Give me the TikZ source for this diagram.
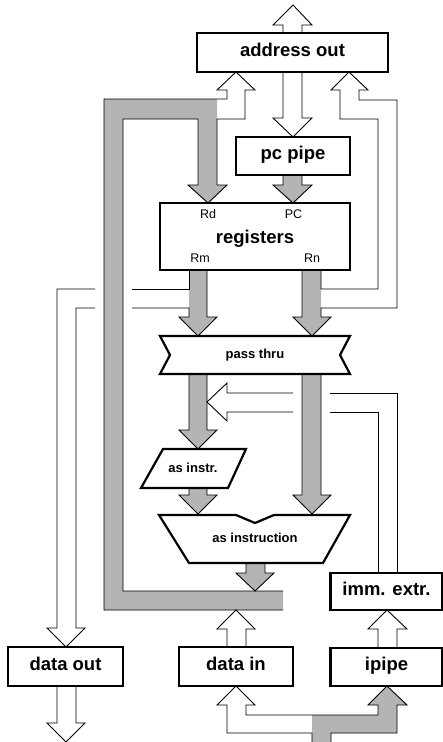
\documentclass[tikz,border=0pt]{standalone}
\usepackage{fontspec}
\setmainfont{Liberation Sans}
\definecolor{arrgray}{RGB}{180,180,180}
\newcommand{\bigfnt}{\fontsize{18.5pt}{20pt}\selectfont\bfseries}
\newcommand{\midfnt}{\fontsize{13pt}{15pt}\selectfont\bfseries}
\newcommand{\smlfnt}{\fontsize{12.5pt}{14pt}\selectfont}
\tikzset{
  boxsty/.style={draw, line width=2.2pt, fill=white, rectangle, inner sep=0pt,
    font=\bigfnt, text height=0.72em, text depth=0pt},
  shapesty/.style={draw, line width=2.2pt, fill=white, line join=miter},
  edge/.style={line width=0.9pt, line join=miter},
  grayarrow/.style={edge, fill=arrgray},
  lbl/.style={inner sep=0pt, anchor=base, font=\smlfnt},
  midlbl/.style={inner sep=0pt, font=\midfnt, text height=0.72em, text depth=0pt},
}
\begin{document}
\begin{tikzpicture}[x=1pt, y=-1pt]
\useasboundingbox (0,0) rectangle (443,742);
\clip (0,0) rectangle (443,742);

% big gray loop (result -> Rd) with hollow branch to address out
\fill[arrgray] (217,99) -- (217,185) -- (227,185) -- (208,203) -- (188,185) -- (198,185)
  -- (198,119) -- (123,119) -- (123,591) -- (283,591) -- (283,610) -- (104,610) -- (104,99) -- cycle;
\draw[edge] (283,610) -- (104,610) -- (104,99) -- (227,99) -- (227,90) -- (217,90)
  -- (236,72) -- (255,90) -- (245,90) -- (245,119) -- (217,119) -- (217,185) -- (227,185)
  -- (208,203) -- (188,185) -- (198,185) -- (198,119) -- (123,119) -- (123,591) -- (283,591);

% top output arrow of address out
\draw[edge, fill=white] (283,33) -- (283,25) -- (273,25) -- (293,5) -- (312,25) -- (302,25) -- (302,33);

% address out -> pc pipe
\draw[edge] (283,72) -- (283,118) -- (273,118) -- (293,137) -- (312,118) -- (302,118) -- (302,72);

% pc pipe -> registers (PC)
\draw[grayarrow] (283,175) -- (283,185) -- (273,185) -- (293,203) -- (312,185) -- (302,185) -- (302,175);

% Rm -> pass thru, with hollow branch to data out
\fill[arrgray] (189,270) -- (189,317) -- (179,317) -- (198,336) -- (217,317) -- (207,317) -- (207,270) -- cycle;
\draw[edge] (189,270) -- (189,289) -- (132,289);
\draw[edge] (95,289) -- (57,289) -- (57,628) -- (47,628) -- (66,647) -- (85,628) -- (76,628) -- (76,308) -- (95,308);
\draw[edge] (132,308) -- (189,308) -- (189,317) -- (179,317) -- (198,336) -- (217,317) -- (207,317) -- (207,270);

% Rn -> pass thru, with hollow branch to address out
\fill[arrgray] (302,270) -- (302,317) -- (293,317) -- (312,336) -- (331,317) -- (321,317) -- (321,270) -- cycle;
\draw[edge] (321,270) -- (321,289) -- (378,289) -- (378,119) -- (340,119) -- (340,90) -- (331,90)
  -- (349,72) -- (368,90) -- (359,90) -- (359,100) -- (397,100) -- (397,308) -- (321,308)
  -- (321,317) -- (331,317) -- (312,336) -- (293,317) -- (302,317) -- (302,270);

% pass thru -> as instr.
\draw[grayarrow] (189,374) -- (189,430) -- (179,430) -- (198,449) -- (217,430) -- (207,430) -- (207,374);

% imm. extr. -> left (into the Rm path)
\draw[edge] (397,573) -- (397,393) -- (330,393);
\draw[edge, fill=white] (293,393) -- (227,393) -- (227,383) -- (207,402) -- (227,421) -- (227,412) -- (293,412);
\draw[edge] (330,412) -- (378,412) -- (378,573);

% pass thru -> as instruction (Rn)
\draw[grayarrow] (302,374) -- (302,495) -- (293,495) -- (312,514) -- (331,495) -- (321,495) -- (321,374);

% as instr. -> as instruction
\draw[grayarrow] (189,488) -- (189,495) -- (179,495) -- (198,514) -- (217,495) -- (207,495) -- (207,488);

% as instruction -> loop
\draw[grayarrow] (246,563) -- (246,573) -- (236,573) -- (255,591) -- (274,573) -- (265,573) -- (265,563);

% data in -> loop
\draw[edge, fill=white] (227,647) -- (227,629) -- (217,629) -- (236,610) -- (255,629) -- (246,629) -- (246,647);

% data out -> below
\draw[edge, fill=white] (57,686) -- (57,723) -- (47,723) -- (66,742) -- (85,723) -- (76,723) -- (76,686);

% ipipe -> imm. extr.
\draw[edge, fill=white] (378,648) -- (378,629) -- (368,629) -- (387,610) -- (407,629) -- (397,629) -- (397,648);

% bottom input: gray to ipipe, hollow branch to data in
\fill[arrgray] (312,715) -- (378,715) -- (378,705) -- (368,705) -- (387,686) -- (407,705) -- (397,705)
  -- (397,733) -- (331,733) -- (331,750) -- (312,750) -- cycle;
\draw[edge] (312,750) -- (312,733) -- (227,733) -- (227,705) -- (217,705) -- (236,686) -- (255,705)
  -- (246,705) -- (246,715) -- (378,715) -- (378,705) -- (368,705) -- (387,686) -- (407,705)
  -- (397,705) -- (397,733) -- (331,733) -- (331,750);

% shapes
\draw[shapesty] (160,336) -- (350,336) -- (340,355) -- (350,374) -- (160,374) -- (170,355) -- cycle;
\node[midlbl] (pass) at (255,355) {pass thru};
\draw[shapesty] (163,449) -- (246,449) -- (228,488) -- (141,488) -- cycle;
\node[midlbl] (asinstr) at (193,468.5) {as instr.};
\draw[shapesty] (159,515) -- (236,515) -- (255,523) -- (274,515) -- (350,515) -- (323,563) -- (189,563) -- cycle;
\node[midlbl] (asinstruction) at (255,538.5) {as instruction};

% boxes
\node[boxsty, minimum width=191pt, minimum height=39pt] (addr) at (292.5,52.5) {address out};
\node[boxsty, minimum width=114pt, minimum height=38pt] (pcpipe) at (293,156) {pc pipe};
\node[boxsty, minimum width=190pt, minimum height=67pt] (regs) at (255,236.5) {};
\node[inner sep=0pt, anchor=base, font=\bigfnt] (regtxt) at (255,243) {registers};
\node[lbl] (rd) at (208,218) {Rd};
\node[lbl] (pc) at (293.5,218) {PC};
\node[lbl] (rm) at (200,262) {Rm};
\node[lbl] (rn) at (312,262) {Rn};
\node[boxsty, minimum width=115pt, minimum height=39pt] (dataout) at (65.5,666.5) {data out};
\node[boxsty, minimum width=114pt, minimum height=39pt] (datain) at (236,666.5) {data in};
\node[boxsty, minimum width=112pt, minimum height=37pt] (imm) at (386.5,591.5) {imm. extr.};
\node[boxsty, minimum width=112pt, minimum height=38pt] (ipipe) at (386.5,667) {ipipe};
\end{tikzpicture}
\end{document}
